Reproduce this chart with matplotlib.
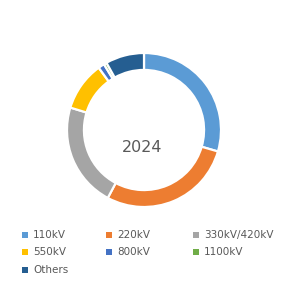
import matplotlib
matplotlib.use("Agg")
import matplotlib.pyplot as plt
from matplotlib.patches import Rectangle

categories = ["110kV", "220kV", "330kV/420kV", "550kV", "800kV", "1100kV", "Others"]
values = [29.5, 28.3, 21.9, 10.3, 1.3, 0.6, 8.1]
colors = ["#5B9BD5", "#ED7D31", "#A5A5A5", "#FFC000", "#4472C4", "#70AD47", "#255E91"]
center_label = "2024"

W, H = 288, 292
fig = plt.figure(figsize=(W / 100, H / 100), dpi=100)
fig.patch.set_facecolor("white")

cx, cy, r = 144, 130, 77
ax = fig.add_axes([(cx - r) / W, (H - cy - r) / H, 2 * r / W, 2 * r / H])
ax.pie(values, colors=colors, startangle=90, counterclock=False, radius=1.0,
       wedgeprops=dict(width=0.22, edgecolor="white", linewidth=1.6))
ax.set_xlim(-1.0, 1.0)
ax.set_ylim(-1.0, 1.0)
ax.set_aspect("equal")
ax.axis("off")
ax.text(-0.02, -0.23, center_label, ha="center", va="center", fontsize=11.5, color="#595959")

# legend
col_x = [22, 106, 193]
row_y = [235, 252, 270]
for i, (lab, col) in enumerate(zip(categories, colors)):
    rx = col_x[i % 3]
    ry = row_y[i // 3]
    fig.patches.append(Rectangle(((rx) / W, (H - ry - 3) / H), 6 / W, 6 / H,
                                 transform=fig.transFigure, facecolor=col, edgecolor="none"))
    fig.text((rx + 11) / W, (H - ry) / H, lab, ha="left", va="center",
             fontsize=7.5, color="#595959")

fig.savefig("out.png", dpi=100)
